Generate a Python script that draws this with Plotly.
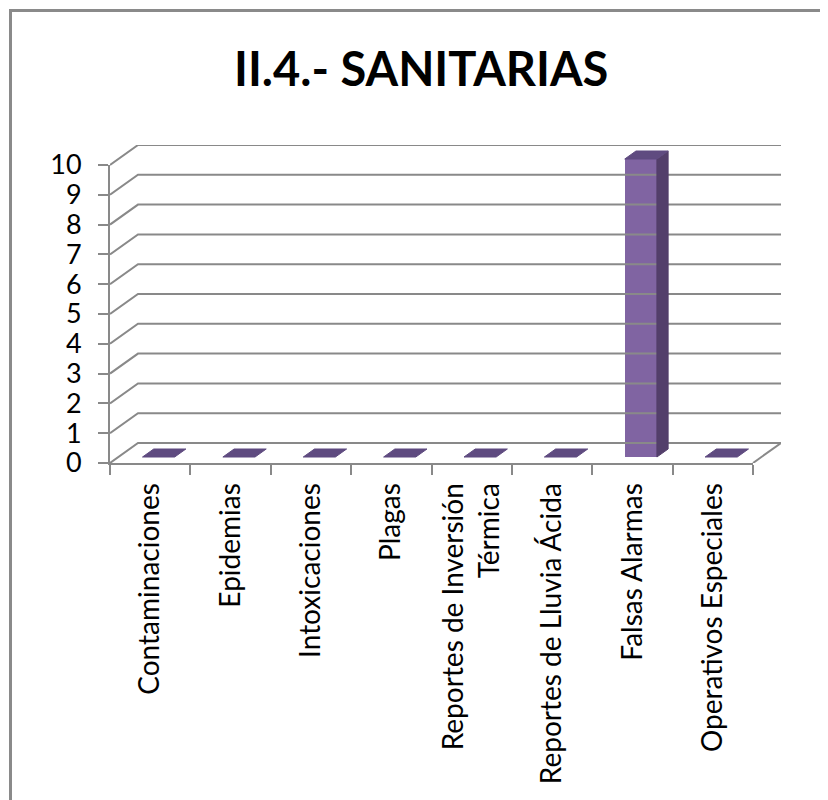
import plotly.graph_objects as go

# ---------------------------------------------------------------------------
# data
# ---------------------------------------------------------------------------
TITLE = "II.4.- SANITARIAS"
CATEGORIES = [
    "Contaminaciones",
    "Epidemias",
    "Intoxicaciones",
    "Plagas",
    "Reportes de Inversión<br>Térmica",
    "Reportes de Lluvia Ácida",
    "Falsas Alarmas",
    "Operativos Especiales",
]
VALUES = [0, 0, 0, 0, 0, 0, 10, 0]
Y_TICKS = list(range(0, 11))

# ---------------------------------------------------------------------------
# geometry of the fake 3-D box (screen pixels of the 828 x 800 window)
# ---------------------------------------------------------------------------
W, H = 828, 800
PAGE_OFF = 8               # default body margin of the html page
X0, Y0 = 110, 463          # front-left-bottom corner
CAT_W = 80.375             # px per category
UNIT_H = 29.8              # px per value unit
DEPTH_X, DEPTH_Y = 28, 20  # depth shift of the back wall
N = len(CATEGORIES)
YMAX = 10

DX = DEPTH_X / CAT_W       # depth shift in data units
DY = DEPTH_Y / UNIT_H
D1, D2 = 0.3, 0.7          # bar front / back depth fraction
HALF = 0.2                 # bar half width (category units)

GRID = "#898989"
FRONT = "#8064a2"
SIDE = "#533f6b"
TOP = "#5f4b80"
FONT = "Lato"


def px_x(p):
    return (p - PAGE_OFF) / W


def px_y(p):
    return 1 - (p - PAGE_OFF) / H


fig = go.Figure()

# invisible trace so the front category axis gets its labels
fig.add_trace(go.Bar(x=CATEGORIES, y=VALUES, marker_color="rgba(0,0,0,0)",
                     hoverinfo="skip", showlegend=False))

# back wall gridlines + the diagonals joining them to the front value axis
for v in Y_TICKS:
    fig.add_trace(go.Scatter(
        x=[-0.5, -0.5 + DX, N - 0.5 + DX], y=[v, v + DY, v + DY],
        xaxis="x3", yaxis="y3", mode="lines",
        line=dict(color=GRID, width=2), hoverinfo="skip", showlegend=False))
# right edge of the floor
fig.add_trace(go.Scatter(
    x=[N - 0.5, N - 0.5 + DX], y=[0, DY], xaxis="x3", yaxis="y3", mode="lines",
    line=dict(color=GRID, width=2), hoverinfo="skip", showlegend=False))

# 3-D columns: front face as a bar, side and top as filled polygons
for i, v in enumerate(VALUES):
    xl, xr = i - HALF, i + HALF
    if v > 0:
        fig.add_trace(go.Scatter(
            x=[xr + D1 * DX, xr + D2 * DX, xr + D2 * DX, xr + D1 * DX, xr + D1 * DX],
            y=[D1 * DY, D2 * DY, v + D2 * DY, v + D1 * DY, D1 * DY],
            xaxis="x3", yaxis="y3", mode="lines", fill="toself",
            fillcolor=SIDE, line=dict(color=SIDE, width=1),
            hoverinfo="skip", showlegend=False))
    fig.add_trace(go.Scatter(
        x=[xl + D1 * DX, xr + D1 * DX, xr + D2 * DX, xl + D2 * DX, xl + D1 * DX],
        y=[v + D1 * DY, v + D1 * DY, v + D2 * DY, v + D2 * DY, v + D1 * DY],
        xaxis="x3", yaxis="y3", mode="lines", fill="toself",
        fillcolor=TOP, line=dict(color=TOP, width=1),
        hoverinfo="skip", showlegend=False))

fig.add_trace(go.Bar(
    x=[i + D1 * DX for i in range(N)], y=VALUES, base=D1 * DY, width=2 * HALF,
    xaxis="x3", yaxis="y3", marker=dict(color=FRONT, line=dict(width=0)),
    hoverinfo="skip", showlegend=False))

axis_common = dict(showgrid=False, zeroline=False, fixedrange=True,
                   automargin=False)
fig.update_layout(
    template="none",
    width=W, height=H, autosize=False,
    margin=dict(l=0, r=0, t=0, b=0, pad=0, autoexpand=False),
    paper_bgcolor="white", plot_bgcolor="rgba(0,0,0,0)",
    font=dict(family=FONT, size=28, color="black"),
    bargap=0, showlegend=False,
    xaxis=dict(
        **axis_common, domain=[px_x(X0), px_x(X0 + N * CAT_W)],
        type="category", categoryorder="array", categoryarray=CATEGORIES,
        range=[-0.5, N - 0.5], tickson="boundaries", ticks="outside",
        ticklen=10, tickwidth=2, tickcolor=GRID, showline=True,
        linecolor=GRID, linewidth=2, tickangle=-90, ticklabelstandoff=7,
        tickfont=dict(family=FONT, size=28, color="black"), anchor="y"),
    yaxis=dict(
        **axis_common, domain=[px_y(Y0), px_y(Y0 - YMAX * UNIT_H)],
        range=[0, YMAX], dtick=1, ticks="outside", ticklen=10, tickwidth=2,
        tickcolor=GRID, showline=True, linecolor=GRID, linewidth=2,
        ticklabelstandoff=11,
        tickfont=dict(family=FONT, size=27, color="black"), anchor="x"),
    xaxis3=dict(
        **axis_common, visible=False,
        domain=[px_x(X0), px_x(X0 + N * CAT_W + DEPTH_X)],
        range=[-0.5, N - 0.5 + DX], anchor="y3"),
    yaxis3=dict(
        **axis_common, visible=False,
        domain=[px_y(Y0), px_y(Y0 - YMAX * UNIT_H - DEPTH_Y)],
        range=[0, YMAX + DY], anchor="x3"),
    shapes=[dict(type="rect", xref="paper", yref="paper",
                 x0=px_x(10.5), x1=1.05, y0=-0.05, y1=px_y(10.5),
                 line=dict(color="#8a8a8a", width=3), layer="below")],
    annotations=[dict(text=f"<b>{TITLE}</b>", xref="paper", yref="paper",
                      x=px_x(421), y=px_y(68), xanchor="center", yanchor="middle",
                      showarrow=False, font=dict(family=FONT, size=47, color="black"))],
)

fig.write_html("out.html")
